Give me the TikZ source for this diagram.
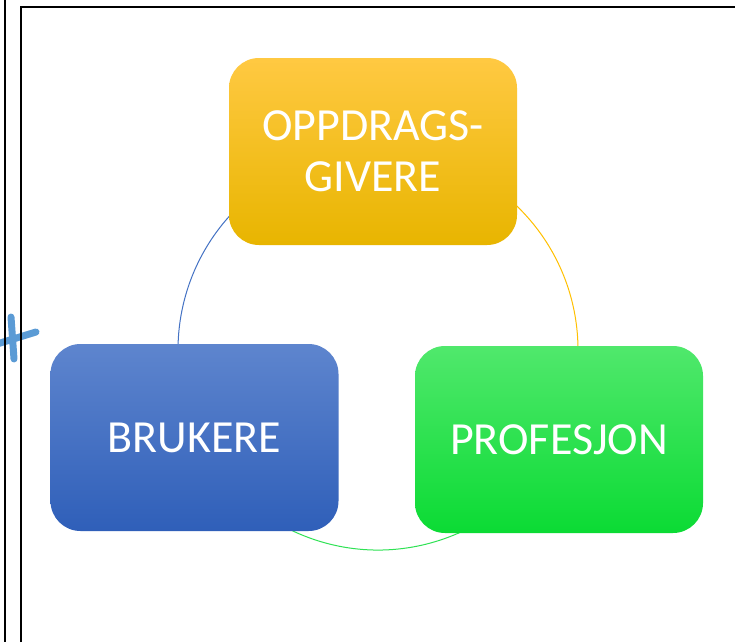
\documentclass[tikz,border=0pt]{standalone}
\usepackage{fontspec}
\setmainfont{Carlito}
\usetikzlibrary{calc}

\definecolor{goldtop}{HTML}{FFC942}
\definecolor{goldmid}{HTML}{FFC300}
\definecolor{goldbot}{HTML}{E8B500}
\definecolor{bluetop}{HTML}{5E85CE}
\definecolor{bluebot}{HTML}{2F5FB9}
\definecolor{greentop}{HTML}{50E86C}
\definecolor{greenbot}{HTML}{0BDB34}
\definecolor{ringblue}{HTML}{4472C4}
\definecolor{ringgold}{HTML}{FFC000}
\definecolor{ringgreen}{HTML}{2EE253}
\definecolor{penblue}{HTML}{5B9BD5}

\begin{document}
\begin{tikzpicture}[x=1pt, y=-1pt,
  box/.style={rounded corners=30pt, minimum width=288pt, minimum height=187pt,
    inner sep=0pt, text=white, align=center, font=\fontsize{46}{51}\selectfont},
  ring/.style={line width=1pt}]
\useasboundingbox (0,0) rectangle (735,642);
\fill[white] (0,0) rectangle (735,642);
\coordinate (ring) at (378,350);

% pen mark and frame
\draw[penblue, line width=7pt, line cap=round] (11,317) -- (14,359);
\draw[penblue, line width=7pt, line cap=round] (-3,344) -- (36,332);
\draw[line width=1.6pt] (5,0) -- (5,642);
\draw[line width=1.6pt] (21,642) -- (21,7) -- (735,7);

% ring behind the boxes
\draw[ring, ringblue]  (ring) ++(-100:200) arc[start angle=-100, end angle=-200, radius=200];
\draw[ring, ringgold]  (ring) ++(-80:200)  arc[start angle=-80,  end angle=20,   radius=200];
\draw[ring, ringgreen] (ring) ++(20:200)   arc[start angle=20,   end angle=160,  radius=200];

\node[box, top color=goldtop, middle color=goldmid, bottom color=goldbot] (givere) at (373,151.5) {OPPDRAGS-\\GIVERE};
\node[box, top color=bluetop, bottom color=bluebot] (brukere) at (194.5,437.5) {BRUKERE};
\node[box, top color=greentop, bottom color=greenbot] (profesjon) at (559,439.5) {PROFESJON};
\end{tikzpicture}
\end{document}
